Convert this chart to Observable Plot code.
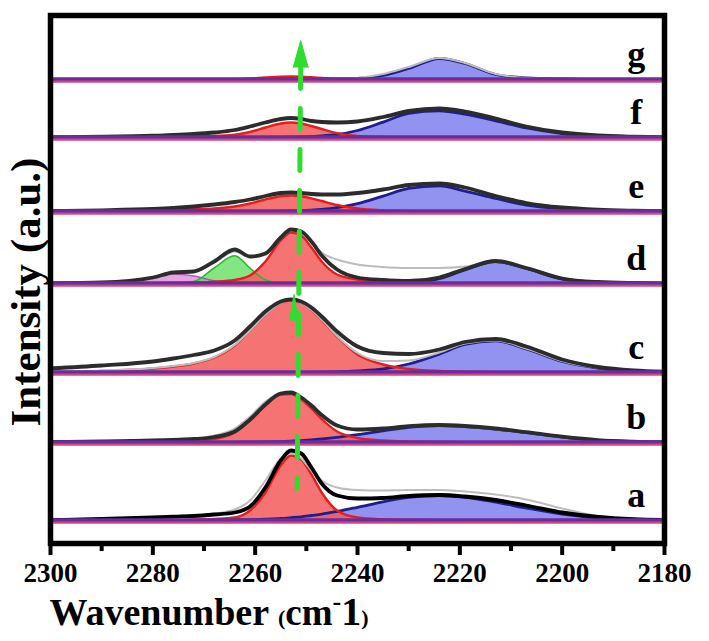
<!DOCTYPE html>
<html>
<head>
<meta charset="utf-8">
<script src="https://cdn.jsdelivr.net/npm/d3@7"></script>
<script src="https://cdn.jsdelivr.net/npm/@observablehq/plot@0.6"></script>
<style>
  html, body { margin: 0; padding: 0; background: #fff; }
</style>
</head>
<body>
<div id="chart"></div>
<script>
const wavenumber = [2300,2290,2280,2276,2272,2268,2264,2261,2258,2255,2253,2251,2249,2247,2244,2240,2235,2230,2224,2219,2213,2207,2200,2193,2186,2180];
const spectrumNames = ["a","b","c","d","e","f","g"];
const offsets = [23,101,171,260,332,406,464];   // vertical stacking offsets (a.u.)
const xTicks = [2300,2280,2260,2240,2220,2200,2180];
const xMinorTicks = [2290,2270,2250,2230,2210,2190];
const markedPeak = 2252; // shifting band marked by the green arrow

// spectrum a
const aRed  = [0,0,0.3,0.5,0.8,1.5,3,10,28,55,65,61,46,28,10,3,1.2,0.6,0.3,0,0,0,0,0,0,0];
const aBlue = [0,0,0,0.1,0.2,0.35,0.5,0.8,1.3,2,2.8,3.7,5,6.3,9,13.2,18.7,23.2,25,23.2,18.4,12.5,6.5,2.8,1,0.4];
const aFit  = [0.5,1.5,3,3.8,4.5,6,8,14,33,60,70,67,53,37,25,22,22.5,24.5,25.5,24,20.5,15,8,3.5,1.3,0.5];
const aData = [0.5,1.5,3,4,5,7,11,20,40,62,67,62,50,40,33,30.5,30,30.5,30.5,29,26,21,12,4.5,1.3,0.5];
// spectrum b
const bRed  = [0,0.3,0.8,1.2,2,3.5,10,22,37,48,48.5,43,34,23.5,11,4.5,2,1,0.5,0.2,0,0,0,0,0,0];
const bBlue = [0,0,0,0,0,0.1,0.2,0.3,0.5,0.95,1.4,1.9,2.6,3.5,5.1,7.8,11.7,15.2,17,15.9,13.5,10,5.5,2.2,0.8,0.3];
const bFit  = [0.5,1,2,2.7,3.5,5.5,11,23,38,49,50,45,37,27.5,17,13,14,16.3,17.5,16.5,14,10.3,5.8,2.4,0.9,0.3];
const bData = [0.5,1,2,2.8,4,7,14,26,41,49,49.5,44,36,27,17.5,13.5,14,16,17,16,13.5,10,5.5,2.3,0.8,0.3];
// spectrum c
const cRed  = [0.5,1.5,4,6,9,15,27,42,58,69.5,72,69.5,62.5,52.5,36,18,8,3.5,1.5,0.8,0.4,0.2,0,0,0,0];
const cBlue = [0,0,0,0,0,0,0,0,0,0,0,0,0.1,0.3,0.6,1.5,3.5,8.5,18.4,28,31.6,23.5,11,4.5,1.6,0.6];
const cFit  = [4,7,11,14,17.5,22,32,46,61,71,73,71,65,56,41,26,19.5,18.5,23,30.5,33.5,26,13,5.5,2,0.8];
const cData = [1,2,4.5,6.5,9.5,15.5,27.5,42,58,69.5,72,69.5,62.5,53,36.5,19.5,11.5,12,20,29,32,24,11.5,4.7,1.7,0.6];
// spectrum d
const dRed   = [0,0,0.3,0.6,1,1.8,3.5,8,22,43,51,48,36,22,9,4,1.2,0.5,0.2,0,0,0,0,0,0,0];
const dGreen = [0,0,0,0.2,2,15.5,27.7,15.4,3.6,0.4,0.1,0,0,0,0,0,0,0,0,0,0,0,0,0,0,0];
const dPink  = [0,0.1,5,9.5,7.5,2.7,0.5,0.1,0,0,0,0,0,0,0,0,0,0,0,0,0,0,0,0,0,0];
const dBlue  = [0,0,0,0,0,0,0,0,0,0,0,0,0,0,0,0,0.1,0.7,4.8,13.6,22,15,4.5,1.2,0.3,0];
const dFit   = [0.3,1,6,11,12,22,34,27,30,46,54,52,42,28,14,6,3.5,2.5,6,14.5,22.5,15.5,5,1.5,0.5,0.2];
const dData  = [0.3,1,5,10,11.5,21,32,26,29,45,53,51,42,31,24,19,16.5,15.5,15.5,17,22,15.5,5,1.5,0.5,0.2];
// spectrum e
const eRed  = [0,0.3,1,1.5,2.2,3,5,8,12,15.2,16,15.2,13.2,10.5,6.5,3,1.2,0.5,0.2,0,0,0,0,0,0,0];
const eBlue = [0,0,0,0,0,0,0,0.05,0.1,0.3,0.5,0.8,1.3,2,3.8,7.8,15.4,23.1,25.7,20.4,13,6.5,3,1.2,0.5,0.1];
const eFit  = [0.5,1.2,2.5,3.5,5,7,9.5,12,15.5,18.5,19,18.5,17.5,17,17,18.5,22,26.5,28,24,15.5,8.5,4,1.8,0.8,0.3];
// spectrum f
const fRed  = [0,0.2,0.6,0.9,1.3,1.5,2.8,5.5,10,14,15,14,11.5,8.5,4.3,1.5,0.6,0.3,0,0,0,0,0,0,0,0];
const fBlue = [0,0,0,0,0,0,0,0,0.02,0.1,0.3,0.5,0.9,1.5,3,7,15.4,24.2,26.7,23.4,16.6,9.5,4,1.5,0.5,0.2];
const fFit  = [0.3,0.8,1.8,2.5,3.5,5,7.5,11,15,18.5,19.5,18.5,16.5,15.5,15,16,20.5,26.5,29,26,19,11,5,2,0.8,0.3];
// spectrum g
const gRed  = [0,0,0,0,0,0,0.3,1,2,2.8,3,2.8,2.2,1.5,0.7,0.2,0,0,0,0,0,0,0,0,0,0];
const gBlue = [0,0,0,0,0,0,0,0,0,0,0,0,0,0,0.2,1,4,11,21,16,5,1.5,0.5,0.1,0,0];
const gData = [0,0,0,0,0,0,0,0,0,0,0,0,0,0,0.4,1.6,5.5,12.5,21.5,16.5,5.5,1.6,0.5,0.1,0,0];

const curves = {
  a: {red: aRed, blue: aBlue, data: aData, fit: aFit},
  b: {red: bRed, blue: bBlue, data: bData, fit: bFit},
  c: {red: cRed, blue: cBlue, data: cData, fit: cFit},
  d: {pink: dPink, green: dGreen, red: dRed, blue: dBlue, data: dData, fit: dFit},
  e: {red: eRed, blue: eBlue, fit: eFit},
  f: {red: fRed, blue: fBlue, fit: fFit},
  g: {red: gRed, blue: gBlue, data: gData}
};

const rows = [];
spectrumNames.forEach((s, si) => {
  for (const [comp, vals] of Object.entries(curves[s])) {
    vals.forEach((v, i) => rows.push({spec: s, comp, x: wavenumber[i], base: offsets[si], top: offsets[si] + v}));
  }
});
const pick = c => rows.filter(r => r.comp === c);
const baseRows = spectrumNames.map((s, i) => ({spec: s, y: offsets[i]}));

const fills = {
  pink:  {fill: "#d673d6", fillOpacity: 0.65, stroke: "#b455b4", sw: 1.5},
  green: {fill: "#5add5a", fillOpacity: 0.75, stroke: "#34b034", sw: 1.5},
  blue:  {fill: "#7a7aee", fillOpacity: 0.82, stroke: "#1f1f8c", sw: 2.8},
  red:   {fill: "#f55a5a", fillOpacity: 0.85, stroke: "#e21e1e", sw: 2.4}
};
const green = "#2fdc2f";
const curve = "monotone-x";
const font = "'Liberation Serif', 'Times New Roman', serif";

const marks = [];
for (const c of ["blue", "pink", "green", "red"]) {
  const st = fills[c];
  marks.push(Plot.areaY(pick(c), {x: "x", y1: "base", y2: "top", z: "spec", fill: st.fill, fillOpacity: st.fillOpacity, curve}));
}
for (const c of ["blue", "pink", "green", "red"]) {
  const st = fills[c];
  marks.push(Plot.line(pick(c), {x: "x", y: "top", z: "spec", stroke: st.stroke, strokeWidth: st.sw, curve}));
}
marks.push(Plot.line(pick("data"), {x: "x", y: "top", z: "spec", stroke: "#bdbdbd", strokeWidth: 2, curve}));
marks.push(Plot.line(pick("fit"), {x: "x", y: "top", z: "spec", stroke: d => d.spec === "a" ? "#000" : "#2c2c2c", strokeWidth: 3.8, curve}));
// baselines
marks.push(Plot.ruleY(baseRows, {y: "y", x1: 2300, x2: 2180, stroke: "#d3467f", strokeWidth: 4, dy: 1.2}));
marks.push(Plot.ruleY(baseRows, {y: "y", x1: 2300, x2: 2180, stroke: "#6a2d9e", strokeWidth: 3.4, dy: -0.6}));
// green dashed arrow marking the band
marks.push(Plot.line([{x: markedPeak - 0.9, y: offsets[6] + 12}, {x: markedPeak - 0.2, y: offsets[0] + 32}],
  {x: "x", y: "y", stroke: green, strokeWidth: 5, strokeDasharray: "21,20"}));
marks.push(Plot.vector([{x: markedPeak - 0.9, y: offsets[6] + 12}], {x: "x", y: "y", length: 27, r: 7.5, shape: "spike", anchor: "start", fill: green, stroke: green, strokeWidth: 1}));
marks.push(Plot.vector([{x: markedPeak + 0.4, y: offsets[2] + 52}], {x: "x", y: "y", length: 26, r: 4.5, shape: "spike", anchor: "start", fill: green, stroke: green, strokeWidth: 1}));
// spectrum letters
marks.push(Plot.text(baseRows, {x: 2185.5, y: "y", text: "spec", dy: -14, lineAnchor: "bottom", textAnchor: "middle", fontSize: 36, fontWeight: "bold", fontFamily: font, fill: "#000"}));
// frame & axis
marks.push(Plot.frame({stroke: "#000", strokeWidth: 5.5}));
marks.push(Plot.axisX({ticks: xMinorTicks, tickSize: 8, tickFormat: () => "", label: null, strokeWidth: 4, stroke: "#000"}));
marks.push(Plot.axisX({ticks: xTicks, tickSize: 12, tickPadding: 7, tickFormat: d => String(d), label: null, strokeWidth: 4, stroke: "#000",
  fontSize: 27, fontWeight: "bold", fontFamily: font, fill: "#000"}));

const chart = Plot.plot({
  width: 709,
  height: 641,
  marginLeft: 50,
  marginRight: 45,
  marginTop: 15,
  marginBottom: 98,
  style: {fontFamily: font, background: "#fff", overflow: "visible"},
  x: {domain: [2300, 2180], axis: null, label: null},
  y: {domain: [0, 528], axis: null, label: null},
  marks
});

const svg = d3.select(chart);
svg.append("text")
  .attr("transform", "translate(40,292) rotate(-90)")
  .attr("text-anchor", "middle")
  .attr("font-family", font).attr("font-weight", "bold").attr("font-size", 43)
  .attr("fill", "#000")
  .text("Intensity (a.u.)");
const t = svg.append("text")
  .attr("x", 209).attr("y", 625)
  .attr("font-family", font).attr("font-weight", "bold").attr("fill", "#000");
t.append("tspan").attr("font-size", 38).text("Wavenumber ");
t.append("tspan").attr("font-size", 22).text("(");
t.append("tspan").attr("font-size", 37).text("cm");
t.append("tspan").attr("font-size", 26).attr("dy", -15).text("-");
t.append("tspan").attr("font-size", 40).attr("dy", 15).text("1");
t.append("tspan").attr("font-size", 22).text(")");

document.getElementById("chart").appendChild(chart);
</script>
</body>
</html>
